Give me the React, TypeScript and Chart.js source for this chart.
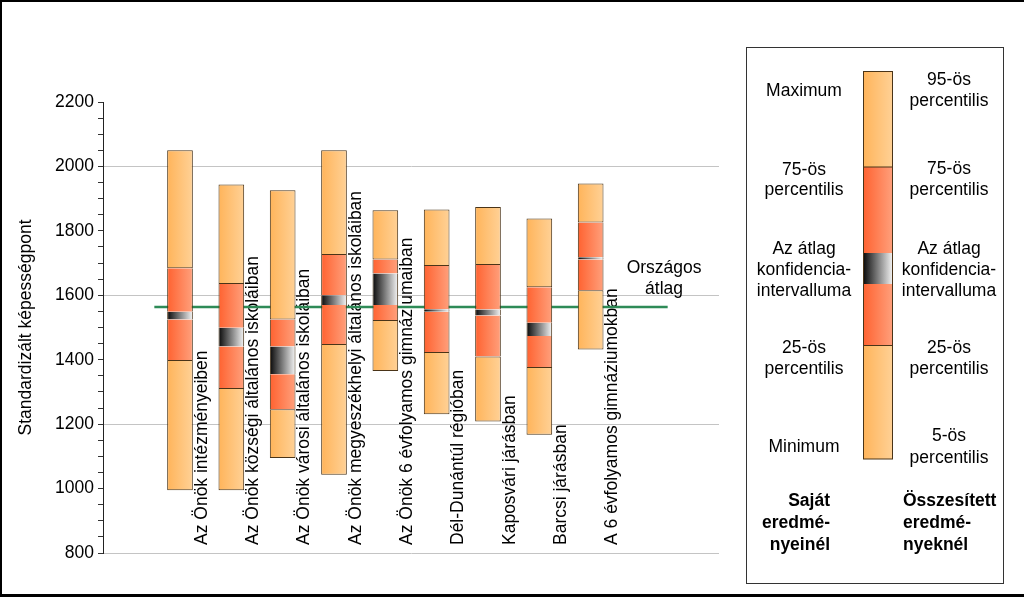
import React, { useEffect, useRef } from 'react';
import { Chart, registerables } from 'chart.js';

Chart.register(...registerables);

const FONT = '"Liberation Sans", Arial, Helvetica, sans-serif';
const FS = 17.5;

// ---- data ----
const categories = [
  'Az Önök intézményeiben',
  'Az Önök községi általános iskoláiban',
  'Az Önök városi általános iskoláiban',
  'Az Önök megyeszékhelyi általános iskoláiban',
  'Az Önök 6 évfolyamos gimnáziumaiban',
  'Dél-Dunántúl régióban',
  'Kaposvári járásban',
  'Barcsi járásban',
  'A 6 évfolyamos gimnáziumokban',
];
const minValues = [995, 995, 1095, 1043, 1365, 1231, 1208, 1167, 1432];
const p25Values = [1399, 1312, 1246, 1449, 1523, 1424, 1410, 1377, 1616];
const ciLowValues = [1525, 1441, 1355, 1570, 1570, 1549, 1537, 1474, 1711];
const ciHighValues = [1549, 1499, 1441, 1600, 1668, 1557, 1556, 1515, 1718];
const p75Values = [1684, 1635, 1525, 1725, 1711, 1691, 1694, 1625, 1826];
const maxValues = [2050, 1944, 1926, 2050, 1864, 1866, 1874, 1838, 1947];
const nationalAverage = 1564;
const nationalAverageLabel = ['Országos', 'átlag'];
const yTickLabels = [800, 1000, 1200, 1400, 1600, 1800, 2000, 2200];
const yGridValues = [800, 1200, 1600, 2000];
const yTitle = 'Standardizált képességpont';

const legendLeft = [['Maximum'], ['75-ös', 'percentilis'], ['Az átlag', 'konfidencia-', 'intervalluma'], ['25-ös', 'percentilis'], ['Minimum']];
const legendRight = [['95-ös', 'percentilis'], ['75-ös', 'percentilis'], ['Az átlag', 'konfidencia-', 'intervalluma'], ['25-ös', 'percentilis'], ['5-ös', 'percentilis']];
const legendFooterLeft = ['Saját', 'eredmé-', 'nyeinél'];
const legendFooterRight = ['Összesített', 'eredmé-', 'nyeknél'];

// ---- styles ----
const OUTER = ['#FFB45A', '#FFD196'];
const INNER = ['#FF6230', '#FFA07C'];
const CI = ['#080808', '#f6f6f6'];
const BORDER = '#4a3418';

const slotLabels = ['', ...categories, '', ''];
const seg = (lo: number[], hi: number[]) => [null, ...lo.map((v, i) => [v, hi[i]]), null, null];

const barFill = (stops: string[]) => (c: any) => {
  const chart = c.chart;
  const xs = chart.scales && chart.scales.x;
  if (!xs || c.type !== 'data') return stops[0];
  const cx = xs.getPixelForValue(c.dataIndex);
  const half = Math.abs(xs.getPixelForValue(1) - xs.getPixelForValue(0)) * 0.25;
  if (!isFinite(cx) || !isFinite(half) || half <= 0) return stops[0];
  const g = chart.ctx.createLinearGradient(cx - half, 0, cx + half, 0);
  g.addColorStop(0, stops[0]);
  g.addColorStop(1, stops[1]);
  return g;
};

const labelsPlugin = {
  id: 'customText',
  beforeDatasetsDraw(chart: any) {
    const { ctx, scales } = chart;
    const x = scales.x;
    const y = scales.y;
    const slot = x.getPixelForValue(1) - x.getPixelForValue(0);
    ctx.save();
    ctx.font = `${FS}px ${FONT}`;
    ctx.fillStyle = '#000';
    ctx.textAlign = 'left';
    ctx.textBaseline = 'alphabetic';
    categories.forEach((label, i) => {
      const px = x.getPixelForValue(i + 1) + slot / 2 + 1;
      const py = y.getPixelForValue(y.min) - 8;
      ctx.save();
      ctx.translate(px, py);
      ctx.rotate(-Math.PI / 2);
      ctx.fillText(label, 0, 0);
      ctx.restore();
    });
    ctx.restore();
  },
  afterDraw(chart: any) {
    const { ctx, scales } = chart;
    const x = scales.x;
    const y = scales.y;
    const slot = x.getPixelForValue(1) - x.getPixelForValue(0);
    ctx.save();
    ctx.font = `${FS}px ${FONT}`;
    ctx.fillStyle = '#000';
    ctx.textAlign = 'center';
    ctx.textBaseline = 'middle';
    const ax = x.getPixelForValue(10) + slot * 0.43;
    const ay = y.getPixelForValue(nationalAverage);
    ctx.fillText(nationalAverageLabel[0], ax, ay - 39);
    ctx.fillText(nationalAverageLabel[1], ax, ay - 18);

    // legend box
    ctx.strokeStyle = '#333';
    ctx.lineWidth = 1;
    ctx.strokeRect(746.5, 47.5, 257, 536);

    // legend bar
    const bx0 = 863, bx1 = 893;
    const ys = [71.5, 167, 253, 284, 345.5, 459];
    const fills = [OUTER, INNER, CI, INNER, OUTER];
    for (let i = 0; i < 5; i++) {
      const g = ctx.createLinearGradient(bx0, 0, bx1, 0);
      g.addColorStop(0, fills[i][0]);
      g.addColorStop(1, fills[i][1]);
      ctx.fillStyle = g;
      ctx.fillRect(bx0, ys[i], bx1 - bx0, ys[i + 1] - ys[i]);
    }
    ctx.strokeStyle = BORDER;
    ctx.strokeRect(bx0 + 0.5, ys[0], bx1 - bx0 - 1, ys[5] - ys[0]);
    ctx.beginPath();
    ctx.moveTo(bx0, ys[1]); ctx.lineTo(bx1, ys[1]);
    ctx.moveTo(bx0, ys[4]); ctx.lineTo(bx1, ys[4]);
    ctx.stroke();

    // legend texts
    ctx.fillStyle = '#000';
    const leftY = [[91], [170, 190], [249, 270, 291], [348, 369], [447]];
    const rightY = [[80, 101], [169, 190], [249, 270, 291], [348, 369], [436, 458]];
    legendLeft.forEach((grp, gi) => grp.forEach((t, li) => ctx.fillText(t, 804, leftY[gi][li])));
    legendRight.forEach((grp, gi) => grp.forEach((t, li) => ctx.fillText(t, 949, rightY[gi][li])));
    ctx.font = `bold ${FS}px ${FONT}`;
    ctx.textAlign = 'right';
    legendFooterLeft.forEach((t, i) => ctx.fillText(t, 830, 501 + i * 22));
    ctx.textAlign = 'left';
    legendFooterRight.forEach((t, i) => ctx.fillText(t, 903, 501 + i * 22));

    // outer frame
    ctx.fillStyle = '#000';
    ctx.fillRect(0, 0, 1024, 2);
    ctx.fillRect(0, 0, 2, 597);
    ctx.fillRect(0, 594, 1024, 3);
    ctx.restore();
  },
};

export default function App() {
  const ref = useRef<HTMLCanvasElement | null>(null);

  useEffect(() => {
    if (!ref.current) return;
    const sideBorder = { top: 0, bottom: 0, left: 1, right: 1 };
    const fullBorder = { top: 1, bottom: 1, left: 1, right: 1 };
    const mkBar = (lo: number[], hi: number[], stops: string[], bw: any) => ({
      type: 'bar' as const,
      data: seg(lo, hi) as any,
      backgroundColor: barFill(stops),
      borderColor: BORDER,
      borderWidth: bw,
      borderSkipped: false,
      grouped: false,
      barPercentage: 0.5,
      categoryPercentage: 1,
      xAxisID: 'x',
    });
    const chart = new Chart(ref.current, {
      type: 'bar',
      data: {
        labels: slotLabels,
        datasets: [
          mkBar(minValues, p25Values, OUTER, fullBorder),
          mkBar(p25Values, ciLowValues, INNER, sideBorder),
          mkBar(ciLowValues, ciHighValues, CI, sideBorder),
          mkBar(ciHighValues, p75Values, INNER, sideBorder),
          mkBar(p75Values, maxValues, OUTER, fullBorder),
          {
            type: 'line' as const,
            data: [{ x: 1, y: nationalAverage }, { x: 11, y: nationalAverage }] as any,
            xAxisID: 'x2',
            borderColor: '#2E8B57',
            borderWidth: 2.5,
            pointRadius: 0,
            fill: false,
          } as any,
        ],
      },
      options: {
        animation: false,
        responsive: false,
        events: [],
        layout: { padding: { top: 102, right: 305, bottom: 44, left: 0 } },
        plugins: { legend: { display: false }, tooltip: { enabled: false }, title: { display: false } },
        scales: {
          x: { type: 'category', display: false, offset: true, grid: { display: false } },
          x2: {
            type: 'linear',
            axis: 'x',
            position: 'top',
            display: true,
            min: 0,
            max: 12,
            offset: false,
            grid: { display: false, drawTicks: false },
            border: { display: false },
            ticks: { display: false },
            afterFit: (s: any) => { s.height = 0; s.paddingLeft = 0; s.paddingRight = 0; },
          },
          y: {
            type: 'linear',
            min: 800,
            max: 2200,
            afterFit: (s: any) => { s.width = 103; },
            border: { display: true, color: '#222', width: 1 },
            grid: {
              color: (c: any) => (c.tick && yGridValues.includes(c.tick.value) ? '#c4c4c4' : 'rgba(0,0,0,0)'),
              tickColor: '#333',
              tickLength: 5,
              lineWidth: 1,
            },
            ticks: {
              stepSize: 50,
              autoSkip: false,
              padding: 4,
              color: '#000',
              font: { family: FONT, size: FS },
              callback: (v: any) => (yTickLabels.includes(Number(v)) ? String(v) : ''),
            },
            title: {
              display: true,
              text: yTitle,
              color: '#000',
              font: { family: FONT, size: FS },
              padding: { top: 16, bottom: 0 },
            },
          },
        },
      },
      plugins: [labelsPlugin],
    } as any);
    return () => chart.destroy();
  }, []);

  return (
    <div style={{ position: 'fixed', left: 0, top: 0, width: 1024, height: 597, background: '#fff' }}>
      <canvas ref={ref} width={1024} height={597} style={{ display: 'block' }} />
    </div>
  );
}
